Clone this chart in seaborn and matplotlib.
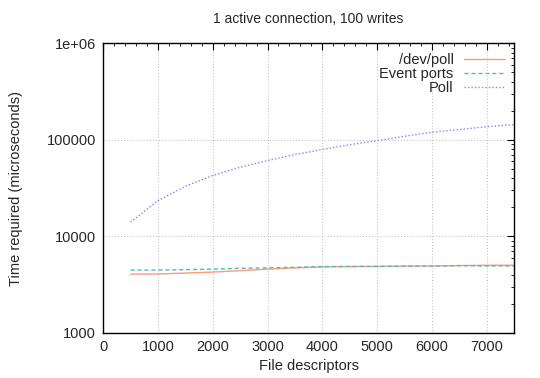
import numpy as np
import pandas as pd
import matplotlib
matplotlib.use("Agg")
import matplotlib.pyplot as plt
import seaborn as sns
from matplotlib.ticker import MultipleLocator, LogLocator, NullFormatter

fds = [500, 1000, 1500, 2000, 2500, 3000, 3500, 4000, 4500, 5000, 5500, 6000, 6500, 7000, 7500]
devpoll = [4050, 4060, 4150, 4250, 4400, 4550, 4700, 4800, 4850, 4860, 4900, 4910, 4960, 5000, 5000]
event_ports = [4450, 4460, 4500, 4560, 4650, 4700, 4760, 4850, 4860, 4870, 4900, 4910, 4960, 4920, 4920]
poll = [14000, 23400, 33000, 42700, 52000, 61000, 70500, 79400, 89000, 98000, 109000, 120000, 128000, 137000, 144000]

series = ["/dev/poll", "Event ports", "Poll"]
df = pd.DataFrame({
    "fd": fds * 3,
    "time": devpoll + event_ports + poll,
    "method": [series[0]] * len(fds) + [series[1]] * len(fds) + [series[2]] * len(fds),
})

sns.set_style("white")
plt.rcParams["font.family"] = ["Liberation Sans", "DejaVu Sans"]

fig = plt.figure(figsize=(5.4, 3.78), dpi=100)
ax = fig.add_axes([0.191, 0.12, 0.761, 0.765])

palette = {"/dev/poll": "#ff9a78", "Event ports": "#50bcbc", "Poll": "#8484ff"}
styles = {"/dev/poll": "-", "Event ports": (0, (3, 2)), "Poll": (0, (1, 1.5))}
for m in series:
    sub = df[df["method"] == m]
    sns.lineplot(data=sub, x="fd", y="time", ax=ax, color=palette[m],
                 linestyle=styles[m], linewidth=1.0, label=m)

ax.set_yscale("log")
ax.set_xlim(0, 7500)
ax.set_ylim(1000, 1e6)
ax.set_yticks([1000, 10000, 100000, 1000000])
ax.set_yticklabels(["1000", "10000", "100000", "1e+06"])
ax.yaxis.set_minor_locator(LogLocator(base=10, subs=np.arange(2, 10)))
ax.yaxis.set_minor_formatter(NullFormatter())
ax.xaxis.set_major_locator(MultipleLocator(1000))
ax.xaxis.set_minor_locator(MultipleLocator(200))

ax.tick_params(which="both", direction="in", top=True, right=True, labelsize=10.5, color="black")
ax.tick_params(which="major", length=5, width=0.8, pad=5)
ax.tick_params(which="minor", length=2.5, width=0.6)
for s in ax.spines.values():
    s.set_color("black")
    s.set_linewidth(1.0)

ax.grid(True, which="major", color="#bbbbbb", linestyle=(0, (1, 2)), linewidth=0.7)

ax.set_xlabel("File descriptors", fontsize=10.5, labelpad=4)
ax.set_ylabel("Time required (microseconds)", fontsize=10.5, labelpad=17)
ax.set_title("1 active connection, 100 writes", fontsize=10, pad=15)

leg = ax.legend(loc="upper right", frameon=False, markerfirst=False, fontsize=10.5,
                handlelength=2.8, borderaxespad=0.35, labelspacing=0.0, handletextpad=0.7,
                borderpad=0.3)
for t in leg.get_texts():
    t.set_ha("right")
leg._legend_box.align = "right"

fig.savefig("out.png", dpi=100)
